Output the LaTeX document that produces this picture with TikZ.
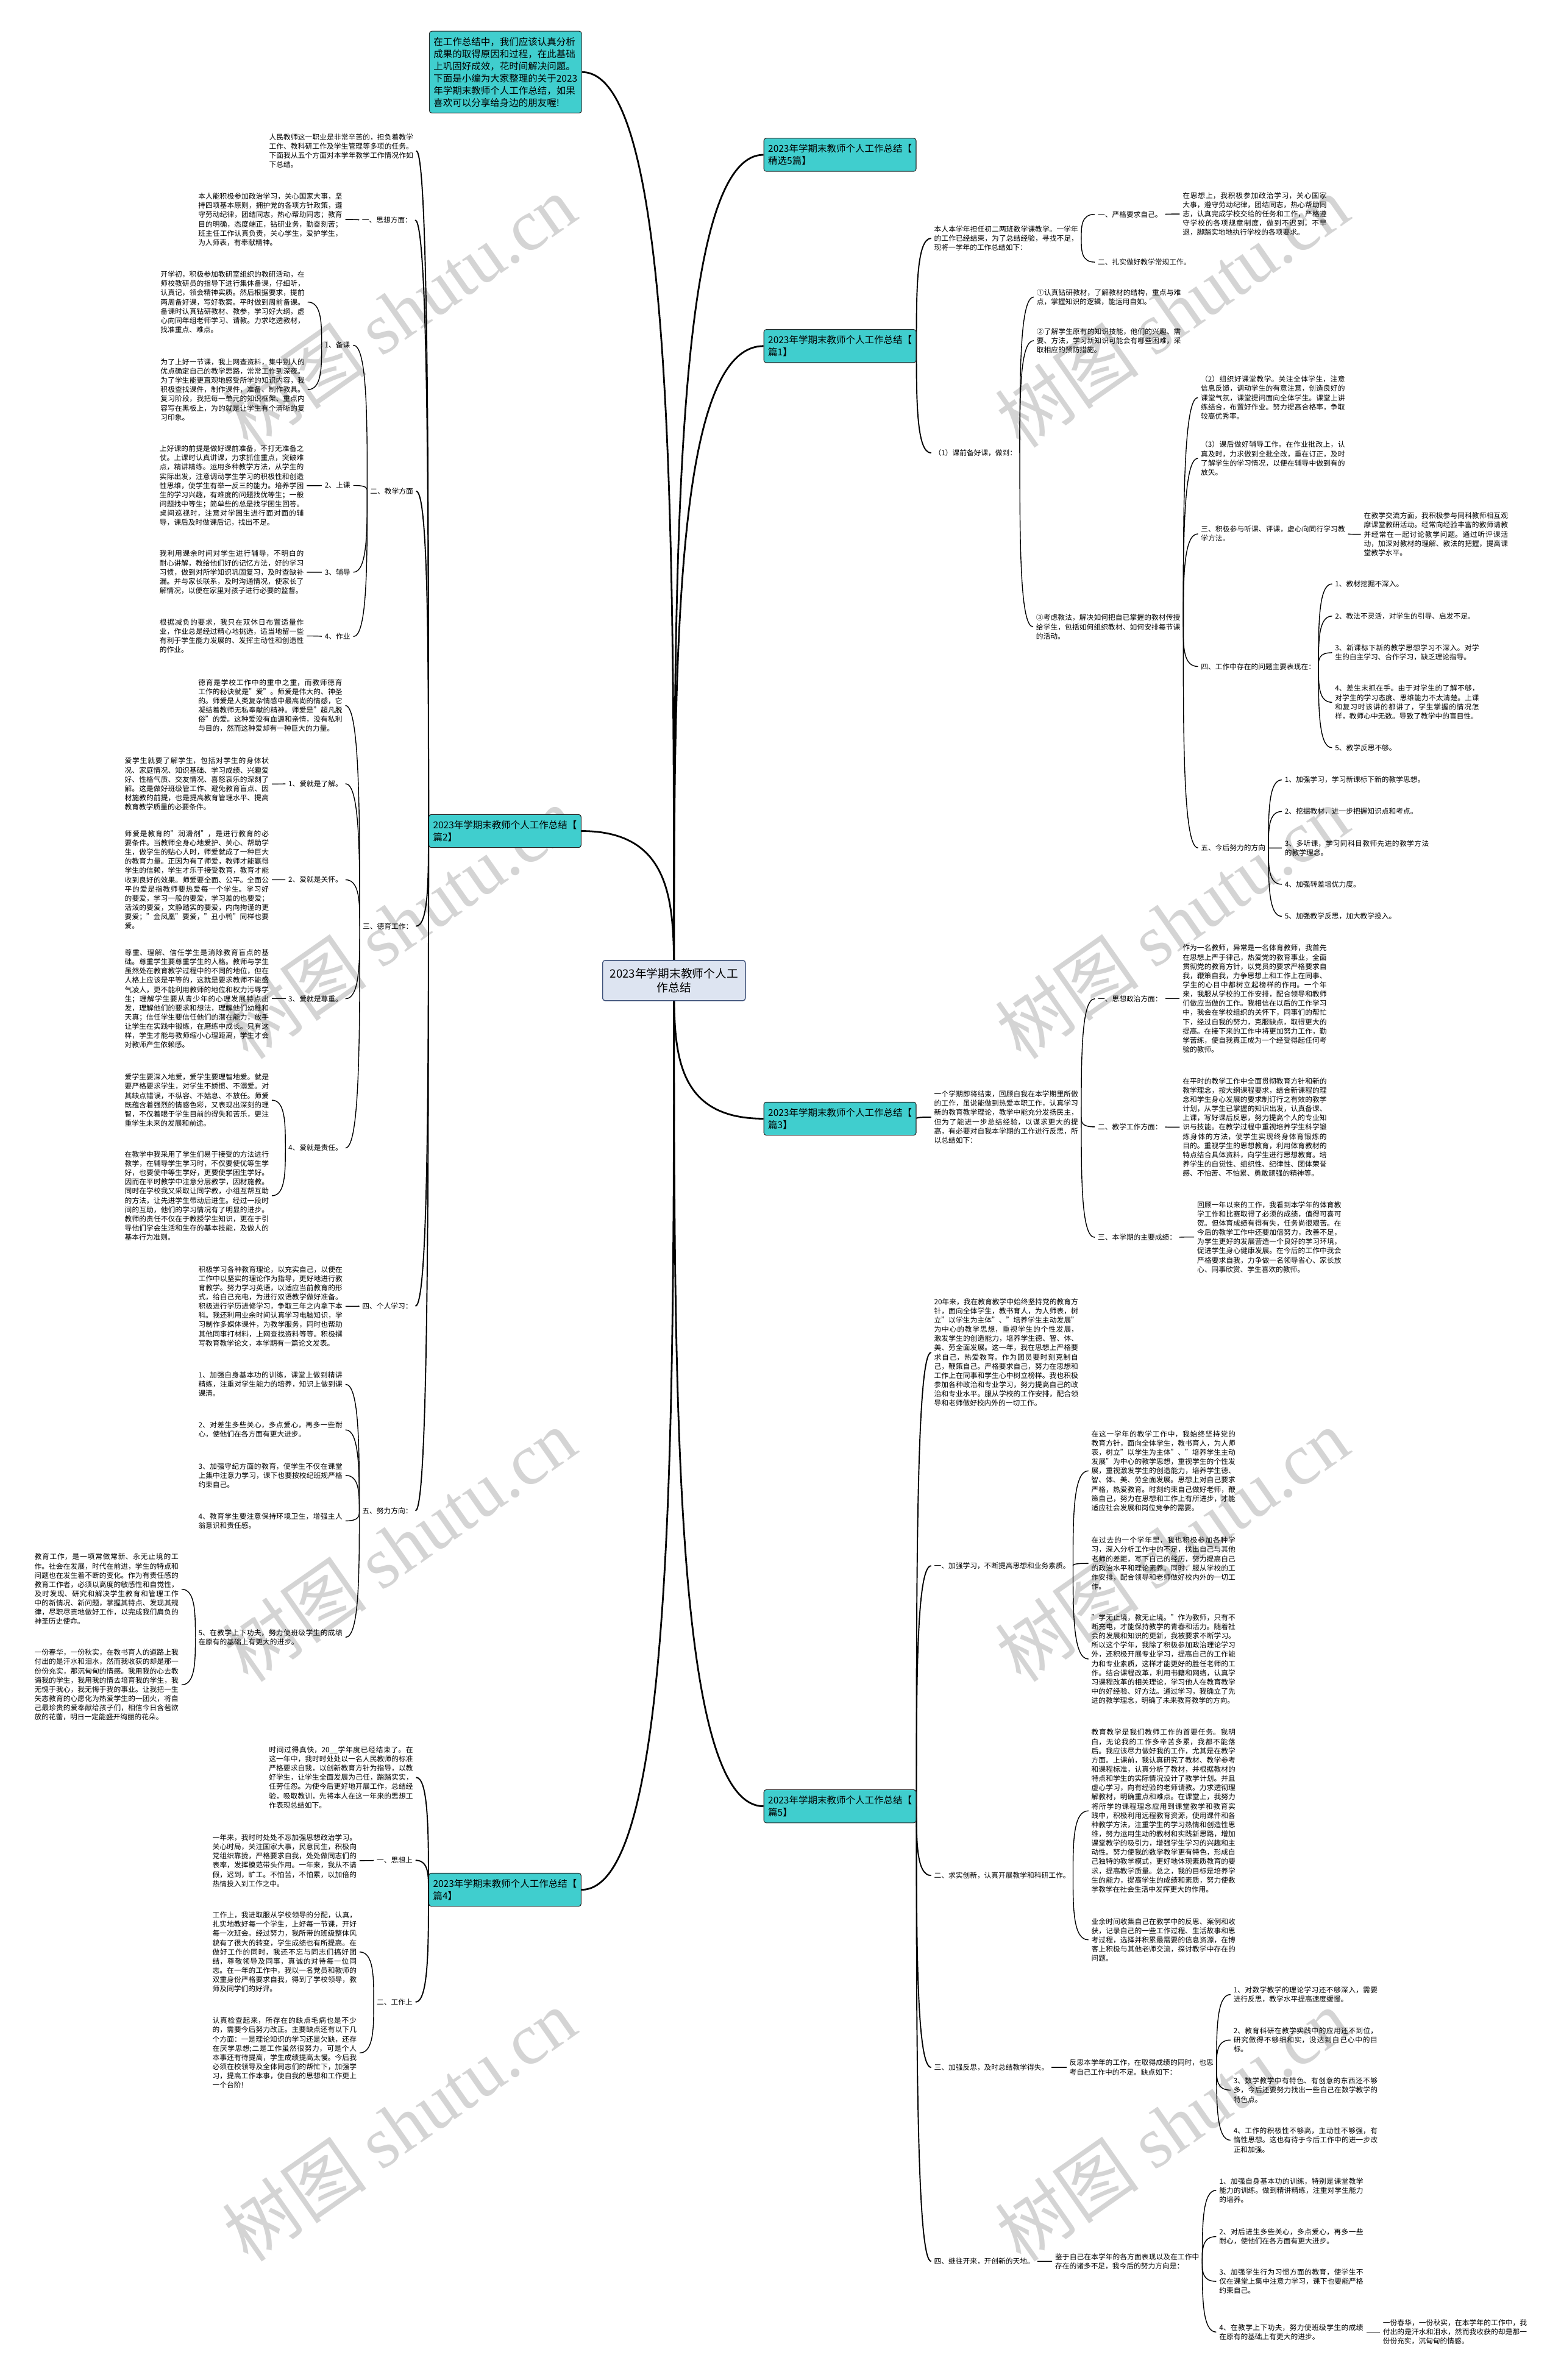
\documentclass[tikz,border=0pt]{standalone}
\usepackage{fontspec}
\setmainfont{Noto Sans CJK SC}
\newfontfamily\wmfont{Liberation Serif}
\XeTeXlinebreaklocale "zh"
\XeTeXlinebreakskip=0pt plus 1pt
\usetikzlibrary{calc,positioning}
\pgfdeclarelayer{background}
\pgfsetlayers{background,main}

\definecolor{branchteal}{RGB}{64,206,206}
\definecolor{rootfill}{RGB}{221,228,241}
\definecolor{rootline}{RGB}{62,82,122}
\definecolor{markgray}{RGB}{212,212,212}

\tikzset{
  txt/.style={font=\fontsize{6.7}{8.65}\selectfont, inner sep=0pt, outer xsep=1mm, xshift=-1mm, anchor=west, text width=135pt, align=justify},
  lbl/.style={font=\fontsize{6.7}{8.65}\selectfont, inner sep=0pt, outer xsep=1mm, xshift=-1mm, anchor=west},
  pian/.style={draw=black!85, line width=0.6pt, fill=branchteal, rounded corners=0.8mm, font=\fontsize{8.85}{11.4}\selectfont, align=left, inner xsep=1.4mm, inner ysep=2mm},
  rootbox/.style={draw=rootline, line width=0.8pt, fill=rootfill, rounded corners=0.8mm, font=\fontsize{10.7}{13}\selectfont, align=center, inner xsep=2.4mm, inner ysep=2.6mm},
  wmark/.style={rotate=35, text=markgray, font=\fontsize{68}{70}\selectfont, inner sep=0pt},
  link/.style={line width=0.8pt, to path={.. controls ($(\tikztostart)!0.5!(\tikztostart|-\tikztotarget)$) and (\tikztostart|-\tikztotarget) .. (\tikztotarget)}},
  trunk/.style={link, line width=1.1pt},
  stem/.style={link, line width=1.6pt},
}

\begin{document}
\begin{tikzpicture}[x=0.5mm, y=-0.5mm]
\useasboundingbox (0,0) rectangle (1028,1568);

% centre and branches
\node[rootbox] (root) at (444,646) {2023年学期末教师个人工\\作总结};
\node[pian, anchor=center] (note) at (333,47.5) {在工作总结中，我们应该认真分析\\成果的取得原因和过程，在此基础\\上巩固好成效，花时间解决问题。\\下面是小编为大家整理的关于2023\\年学期末教师个人工作总结，如果\\喜欢可以分享给身边的朋友喔!};
\node[pian, anchor=west] (jx) at (503,102) {2023年学期末教师个人工作总结【\\精选5篇】};
\node[pian, anchor=west] (p1) at (503,228) {2023年学期末教师个人工作总结【\\篇1】};
\node[pian, anchor=east] (p2) at (383,547.5) {2023年学期末教师个人工作总结【\\篇2】};
\node[pian, anchor=west] (p3) at (503,737) {2023年学期末教师个人工作总结【\\篇3】};
\node[pian, anchor=east] (p4) at (383,1245) {2023年学期末教师个人工作总结【\\篇4】};
\node[pian, anchor=west] (p5) at (503,1190) {2023年学期末教师个人工作总结【\\篇5】};

% pian 1
\node[txt] (b1i) at (615.4,157) {本人本学年担任初二两班数学课教学。一学年的工作已经结束，为了总结经验，寻找不足，现将一学年的工作总结如下：};
\node[lbl] (b1a) at (723.2,141.2) {一、严格要求自己。};
\node[txt] (b1ad) at (779.1,141) {在思想上，我积极参加政治学习，关心国家大事，遵守劳动纪律，团结同志，热心帮助同志，认真完成学校交给的任务和工作，严格遵守学校的各项规章制度，做到不迟到，不早退，脚踏实地地执行学校的各项要求。};
\node[lbl] (b1b) at (723.2,172.7) {二、扎实做好教学常规工作。};
\node[lbl] (b1c) at (615.4,298.4) {（1）课前备好课，做到：};
\node[txt] (b1c1) at (683,195.7) {①认真钻研教材，了解教材的结构，重点与难点，掌握知识的逻辑，能运用自如。};
\node[txt] (b1c2) at (683,224.4) {②了解学生原有的知识技能，他们的兴趣、需要、方法，学习新知识可能会有哪些困难，采取相应的预防措施。};
\node[txt] (b1c3) at (682.6,413) {③考虑教法，解决如何把自已掌握的教材传授给学生，包括如何组织教材、如何安排每节课的活动。};
\node[txt] (b1d2) at (791.1,262) {（2）组织好课堂教学。关注全体学生，注意信息反馈，调动学生的有意注意，创造良好的课堂气氛，课堂提问面向全体学生。课堂上讲练结合，布置好作业。努力提高合格率，争取较高优秀率。};
\node[txt] (b1d3) at (791.1,302) {（3）课后做好辅导工作。在作业批改上，认真及时，力求做到全批全改，重在订正，及时了解学生的学习情况，以便在辅导中做到有的放矢。};
\node[txt] (b1e) at (791.2,351.7) {三、积极参与听课、评课，虚心向同行学习教学方法。};
\node[txt] (b1ed) at (898.5,352) {在教学交流方面，我积极参与同科教师相互观摩课堂教研活动。经常向经验丰富的教师请教并经常在一起讨论教学问题。通过听评课活动，加深对教材的理解、教法的把握，提高课堂教学水平。};
\node[lbl] (b1f) at (791.2,439.1) {四、工作中存在的问题主要表现在：};
\node[txt] (f1) at (879.5,384.7) {1、教材挖掘不深入。};
\node[txt] (f2) at (879.5,405.9) {2、教法不灵活，对学生的引导、启发不足。};
\node[txt] (f3) at (879.5,430) {3、新课标下新的教学思想学习不深入。对学生的自主学习、合作学习，缺乏理论指导。};
\node[txt] (f4) at (879.5,462.7) {4、差生末抓在手。由于对学生的了解不够，对学生的学习态度、思维能力不太清楚。上课和复习时该讲的都讲了，学生掌握的情况怎样，教师心中无数。导致了教学中的盲目性。};
\node[txt] (f5) at (879.5,492.6) {5、教学反思不够。};
\node[lbl] (b1g) at (791.2,558.6) {五、今后努力的方向};
\node[txt] (g1) at (846.4,513.8) {1、加强学习，学习新课标下新的教学思想。};
\node[txt] (g2) at (846.4,534.6) {2、挖掘教材，进一步把握知识点和考点。};
\node[txt] (g3) at (846.4,558.7) {3、多听课，学习同科目教师先进的教学方法的教学理念。};
\node[txt] (g4) at (846.4,582.6) {4、加强转差培优力度。};
\node[txt] (g5) at (846.4,603.7) {5、加强教学反思，加大教学投入。};

% pian 2
\node[txt] (in2) at (177.3,99.4) {人民教师这一职业是非常辛苦的，担负着教学工作、教科研工作及学生管理等多项的任务。下面我从五个方面对本学年教学工作情况作如下总结。};
\node[lbl] (s1) at (238.5,145) {一、思想方面：};
\node[txt] (s1d) at (130.6,144.6) {本人能积极参加政治学习，关心国家大事，坚持四项基本原则，拥护党的各项方针政策，遵守劳动纪律，团结同志，热心帮助同志；教育目的明确，态度端正，钻研业务，勤奋刻苦；班主任工作认真负责，关心学生，爱护学生，为人师表，有奉献精神。};
\node[lbl] (s2) at (243.9,323.6) {二、教学方面};
\node[lbl] (s2a) at (213.9,227.4) {1、备课};
\node[txt] (s2a1) at (105.8,199) {开学初，积极参加教研室组织的教研活动，在师校教研员的指导下进行集体备课，仔细听，认真记，领会精神实质。然后根据要求，提前两周备好课，写好教案。平时做到周前备课。备课时认真钻研教材、教参，学习好大纲，虚心向同年组老师学习、请教。力求吃透教材，找准重点、难点。};
\node[txt] (s2a2) at (105.8,256.7) {为了上好一节课，我上网查资料，集中别人的优点确定自己的教学思路，常常工作到深夜。为了学生能更直观地感受所学的知识内容，我积极查找课件，制作课件，准备、制作教具。复习阶段，我把每一单元的知识框架、重点内容写在黑板上，为的就是让学生有个清晰的复习印象。};
\node[lbl] (s2b) at (214,319.8) {2、上课};
\node[txt] (s2bd) at (105.2,320) {上好课的前提是做好课前准备，不打无准备之仗。上课时认真讲课，力求抓住重点，突破难点，精讲精练。运用多种教学方法，从学生的实际出发，注意调动学生学习的积极性和创造性思维，使学生有举一反三的能力。培养学困生的学习兴趣，有难度的问题找优等生；一般问题找中等生；简单些的总是找学困生回答。桌间巡视时，注意对学困生进行面对面的辅导，课后及时做课后记，找出不足。};
\node[lbl] (s2c) at (214,377) {3、辅导};
\node[txt] (s2cd) at (105.2,377) {我利用课余时间对学生进行辅导，不明白的耐心讲解，教给他们好的记忆方法，好的学习习惯，做到对所学知识巩固复习，及时查缺补漏。并与家长联系，及时沟通情况，使家长了解情况，以便在家里对孩子进行必要的监督。};
\node[lbl] (s2d) at (214,419.4) {4、作业};
\node[txt] (s2dd) at (105.2,419) {根据减负的要求，我只在双休日布置适量作业，作业总是经过精心地挑选，适当地留一些有利于学生能力发展的、发挥主动性和创造性的作业。};
\node[lbl] (s3) at (239,610.2) {三、德育工作：};
\node[txt] (s3i) at (130.6,464.8) {德育是学校工作中的重中之重，而教师德育工作的秘诀就是"爱"。师爱是伟大的、神圣的。师爱是人类复杂情感中最高尚的情感，它凝结着教师无私奉献的精神。师爱是"超凡脱俗"的爱。这种爱没有血源和亲情，没有私利与目的，然而这种爱却有一种巨大的力量。};
\node[lbl] (s3a) at (190,516.3) {1、爱就是了解。};
\node[txt] (s3ad) at (82.2,516.5) {爱学生就要了解学生，包括对学生的身体状况、家庭情况、知识基础、学习成绩、兴趣爱好、性格气质、交友情况、喜怒哀乐的深刻了解。这是做好班级管工作、避免教育盲点、因材施教的前提，也是提高教育管理水平、提高教育教学质量的必要条件。};
\node[lbl] (s3b) at (190,579.6) {2、爱就是关怀。};
\node[txt] (s3bd) at (82.2,579.6) {师爱是教育的"润滑剂"，是进行教育的必要条件。当教师全身心地爱护、关心、帮助学生，做学生的贴心人时，师爱就成了一种巨大的教育力量。正因为有了师爱，教师才能赢得学生的信赖，学生才乐于接受教育，教育才能收到良好的效果。师爱要全面、公平。全面公平的爱是指教师要热爱每一个学生。学习好的要爱，学习一般的要爱，学习差的也要爱；活泼的要爱，文静踏实的要爱，内向拘谨的更要爱；"金凤凰"要爱，"丑小鸭"同样也要爱。};
\node[lbl] (s3c) at (190,658) {3、爱就是尊重。};
\node[txt] (s3cd) at (82.2,658) {尊重、理解、信任学生是消除教育盲点的基础。尊重学生要尊重学生的人格。教师与学生虽然处在教育教学过程中的不同的地位，但在人格上应该是平等的，这就是要求教师不能盛气凌人，更不能利用教师的地位和权力污辱学生；理解学生要从青少年的心理发展特点出发，理解他们的要求和想法，理解他们幼稚和天真；信任学生要信任他们的潜在能力，放手让学生在实践中锻炼，在磨练中成长。只有这样，学生才能与教师缩小心理距离，学生才会对教师产生依赖感。};
\node[lbl] (s3d) at (190,756.3) {4、爱就是责任。};
\node[txt] (s3d1) at (82.2,724.8) {爱学生要深入地爱，爱学生要理智地爱。就是要严格要求学生，对学生不娇惯、不溺爱。对其缺点错误，不纵容、不姑息、不放任。师爱既蕴含着强烈的情感色彩，又表现出深刻的理智，不仅着眼于学生目前的得失和苦乐，更注重学生未来的发展和前途。};
\node[txt] (s3d2) at (82.2,787.8) {在教学中我采用了学生们易于接受的方法进行教学，在辅导学生学习时，不仅要使优等生学好，也要使中等生学好，更要使学困生学好。因而在平时教学中注意分层教学，因材施教。同时在学校我又采取让同学教，小组互帮互助的方法，让先进学生带动后进生。经过一段时间的互助，他们的学习情况有了明显的进步。教师的责任不仅在于教授学生知识，更在于引导他们学会生活和生存的基本技能，及做人的基本行为准则。};
\node[lbl] (s4) at (238.7,860.5) {四、个人学习：};
\node[txt] (s4d) at (130.7,860.6) {积极学习各种教育理论，以充实自己，以便在工作中以坚实的理论作为指导，更好地进行教育教学。努力学习英语，以适应当前教育的形式，给自己充电，为进行双语教学做好准备。积极进行学历进修学习，争取三年之内拿下本科。我还利用业余时间认真学习电脑知识，学习制作多媒体课件，为教学服务，同时也帮助其他同事打材料，上网查找资料等等。积极撰写教育教学论文，本学期有一篇论文发表。};
\node[lbl] (s5) at (238.7,995.3) {五、努力方向：};
\node[txt] (s5a) at (130.7,912) {1、加强自身基本功的训练，课堂上做到精讲精练，注重对学生能力的培养，知识上做到课课清。};
\node[txt] (s5b) at (130.7,942) {2、对差生多些关心，多点爱心，再多一些耐心，使他们在各方面有更大进步。};
\node[txt] (s5c) at (130.7,972) {3、加强守纪方面的教育，使学生不仅在课堂上集中注意力学习，课下也要按校纪班规严格约束自己。};
\node[txt] (s5d) at (130.7,1002) {4、教育学生要注意保持环境卫生，增强主人翁意识和责任感。};
\node[txt] (s5e) at (130.7,1078.7) {5、在教学上下功夫，努力使班级学生的成绩在原有的基础上有更大的进步。};
\node[txt] (s5e1) at (22.7,1047) {教育工作，是一项常做常新、永无止境的工作。社会在发展，时代在前进，学生的特点和问题也在发生着不断的变化。作为有责任感的教育工作者，必须以高度的敏感性和自觉性，及时发现、研究和解决学生教育和管理工作中的新情况、新问题，掌握其特点、发现其规律，尽职尽责地做好工作，以完成我们肩负的神圣历史使命。};
\node[txt] (s5e2) at (22.7,1110) {一份春华，一份秋实，在教书育人的道路上我付出的是汗水和泪水，然而我收获的却是那一份份充实，那沉甸甸的情感。我用我的心去教诲我的学生，我用我的情去培育我的学生，我无愧于我心，我无悔于我的事业。让我把一生矢志教育的心愿化为热爱学生的一团火，将自己最珍贵的爱奉献给孩子们，相信今日含苞欲放的花蕾，明日一定能盛开绚丽的花朵。};

% pian 3
\node[txt] (c3i) at (615.4,736) {一个学期即将结束，回顾自我在本学期里所做的工作，虽说能做到热爱本职工作，认真学习新的教育教学理论，教学中能充分发扬民主，但为了能进一步总结经验，以谋求更大的提高，有必要对自我本学期的工作进行反思，所以总结如下：};
\node[lbl] (c3a) at (723.2,658) {一、思想政治方面：};
\node[txt] (c3ad) at (779.1,658) {作为一名教师，异常是一名体育教师，我首先在思想上严于律己，热爱党的教育事业，全面贯彻党的教育方针，以党员的要求严格要求自我，鞭策自我，力争思想上和工作上在同事、学生的心目中都树立起榜样的作用。一个年来，我服从学校的工作安排，配合领导和教师们做应当做的工作。我相信在以后的工作学习中，我会在学校组织的关怀下，同事们的帮忙下，经过自我的努力，克服缺点，取得更大的提高。在接下来的工作中将更加努力工作，勤学苦练，使自我真正成为一个经受得起任何考验的教师。};
\node[lbl] (c3b) at (723.2,742.4) {二、教学工作方面：};
\node[txt] (c3bd) at (779.1,742.6) {在平时的教学工作中全面贯彻教育方针和新的教学理念，按大纲课程要求，结合新课程的理念和学生身心发展的要求制订行之有效的教学计划，从学生已掌握的知识出发，认真备课、上课，写好课后反思，努力提高个人的专业知识与技能。在教学过程中重视培养学生科学锻炼身体的方法，使学生实现终身体育锻炼的目的。重视学生的思想教育，利用体育教材的特点结合具体资料，向学生进行思想教育。培养学生的自觉性、组织性、纪律性、团体荣誉感、不怕苦、不怕累、勇敢顽强的精神等。};
\node[lbl] (c3c) at (723.2,815.2) {三、本学期的主要成绩：};
\node[txt] (c3cd) at (788.7,815) {回顾一年以来的工作，我看到本学年的体育教学工作和比赛取得了必须的成绩，值得可喜可贺。但体育成绩有得有失，任务尚很艰苦。在今后的教学工作中还要加倍努力，改善不足，为学生更好的发展营造一个良好的学习环境，促进学生身心健康发展。在今后的工作中我会严格要求自我，力争做一名领导省心、家长放心、同事欣赏、学生喜欢的教师。};

% pian 4
\node[txt] (p4i) at (177.2,1171) {时间过得真快，20\_\_学年度已经结束了。在这一年中，我时时处处以一名人民教师的标准严格要求自我，以创新教育方针为指导，以教好学生，让学生全面发展为己任，踏踏实实，任劳任怨。为使今后更好地开展工作，总结经验，吸取教训，先将本人在这一年来的思想工作表现总结如下。};
\node[lbl] (p4a) at (248.2,1225.6) {一、思想上};
\node[txt] (p4ad) at (140,1225.8) {一年来，我时时处处不忘加强思想政治学习。关心时局，关注国家大事，民意民生，积极向党组织靠拢，严格要求自我，处处做同志们的表率，发挥模范带头作用。一年来，我从不请假，迟到，旷工。不怕苦，不怕累，以加倍的热情投入到工作之中。};
\node[lbl] (p4b) at (248.2,1319) {二、工作上};
\node[txt] (p4b1) at (140,1286) {工作上，我进取服从学校领导的分配，认真，扎实地教好每一个学生，上好每一节课，开好每一次班会。经过努力，我所带的班级整体风貌有了很大的转变，学生成绩也有所提高。在做好工作的同时，我还不忘与同志们搞好团结，尊敬领导及同事，真诚的对待每一位同志。在一年的工作中，我以一名党员和教师的双重身份严格要求自我，得到了学校领导，教师及同学们的好评。};
\node[txt] (p4b2) at (140,1352.5) {认真检查起来，所存在的缺点毛病也是不少的，需要今后努力改正。主要缺点还有以下几个方面：一是理论知识的学习还是欠缺，还存在厌学思想;二是工作虽然很努力，可是个人本事还有待提高，学生成绩提高太慢。今后我必须在校领导及全体同志们的帮忙下，加强学习，提高工作本事，使自我的思想和工作更上一个台阶!};

% pian 5
\node[txt] (e5i) at (615.4,891) {20年来，我在教育教学中始终坚持党的教育方针，面向全体学生，教书育人，为人师表，树立"以学生为主体"、"培养学生主动发展"为中心的教学思想，重视学生的个性发展，激发学生的创造能力，培养学生德、智、体、美、劳全面发展。这一年，我在思想上严格要求自己，热爱教育。作为团员要时刻克制自己，鞭策自己。严格要求自己，努力在思想和工作上在同事和学生心中树立榜样。我也积极参加各种政治和专业学习，努力提高自己的政治和专业水平。服从学校的工作安排，配合领导和老师做好校内外的一切工作。};
\node[lbl] (e5a) at (615.4,1031.6) {一、加强学习，不断提高思想和业务素质。};
\node[txt] (e5a1) at (719,969) {在这一学年的教学工作中，我始终坚持党的教育方针，面向全体学生，教书育人，为人师表，树立"以学生为主体"、"培养学生主动发展"为中心的教学思想，重视学生的个性发展，重视激发学生的创造能力，培养学生德、智、体、美、劳全面发展。思想上对自己要求严格，热爱教育。时刻约束自己做好老师，鞭策自己，努力在思想和工作上有所进步，才能适应社会发展和岗位竞争的需要。};
\node[txt] (e5a2) at (719,1030) {在过去的一个学年里，我也积极参加各种学习，深入分析工作中的不足，找出自己与其他老师的差距，写下自己的经历，努力提高自己的政治水平和理论素养。同时，服从学校的工作安排，配合领导和老师做好校内外的一切工作。};
\node[txt] (e5a3) at (719,1093) {"学无止境，教无止境。"作为教师，只有不断充电，才能保持教学的青春和活力。随着社会的发展和知识的更新，我被要求不断学习。所以这个学年，我除了积极参加政治理论学习外，还积极开展专业学习，提高自己的工作能力和专业素质，这样才能更好的胜任老师的工作。结合课程改革，利用书籍和网络，认真学习课程改革的相关理论，学习他人在教育教学中的好经验、好方法。通过学习，我确立了先进的教学理念，明确了未来教育教学的方向。};
\node[lbl] (e5b) at (615.4,1235.6) {二、求实创新，认真开展教学和科研工作。};
\node[txt] (e5b1) at (719,1193) {教育教学是我们教师工作的首要任务。我明白，无论我的工作多辛苦多累，我都不能落后。我应该尽力做好我的工作，尤其是在教学方面。上课前，我认真研究了教材、教学参考和课程标准，认真分析了教材，并根据教材的特点和学生的实际情况设计了教学计划。并且虚心学习，向有经验的老师请教。力求透彻理解教材，明确重点和难点。在课堂上，我努力将所学的课程理念应用到课堂教学和教育实践中，积极利用远程教育资源，使用课件和各种教学方法，注重学生的学习热情和创造性思维，努力运用生动的教材和实践新思路，增加课堂教学的吸引力，增强学生学习的兴趣和主动性。努力使我的数学教学更有特色，形成自己独特的教学模式，更好地体现素质教育的要求，提高教学质量。总之，我的目标是培养学生的能力，提高学生的成绩和素质，努力使数学教学在社会生活中发挥更大的作用。};
\node[txt] (e5b2) at (719,1278) {业余时间收集自己在教学中的反思、案例和收获，记录自己的一些工作过程、生活故事和思考过程，选择并积累最需要的信息资源，在博客上积极与其他老师交流，探讨教学中存在的问题。};
\node[lbl] (e5c) at (615.4,1362) {三、加强反思，及时总结教学得失。};
\node[txt] (e5cd) at (704.5,1362) {反思本学年的工作，在取得成绩的同时，也思考自己工作中的不足。缺点如下：};
\node[txt] (e5c1) at (812.6,1314) {1、对数学教学的理论学习还不够深入，需要进行反思，教学水平提高速度缓慢。};
\node[txt] (e5c2) at (812.6,1344) {2、教育科研在教学实践中的应用还不到位，研究做得不够细和实，没达到自己心中的目标。};
\node[txt] (e5c3) at (812.6,1377) {3、数学教学中有特色、有创意的东西还不够多，今后还要努力找出一些自己在数学教学的特色点。};
\node[txt] (e5c4) at (812.6,1410) {4、工作的积极性不够高，主动性不够强，有惰性思想。这也有待于今后工作中的进一步改正和加强。};
\node[lbl] (e5d) at (615.4,1489.8) {四、继往开来，开创新的天地。};
\node[txt] (e5dd) at (695.1,1489.8) {鉴于自己在本学年的各方面表现以及在工作中存在的诸多不足，我今后的努力方向是：};
\node[txt] (e5d1) at (803.2,1443) {1、加强自身基本功的训练，特别是课堂教学能力的训练。做到精讲精练，注重对学生能力的培养。};
\node[txt] (e5d2) at (803.2,1473.5) {2、对后进生多些关心，多点爱心，再多一些耐心，使他们在各方面有更大进步。};
\node[txt] (e5d3) at (803.2,1503) {3、加强学生行为习惯方面的教育，使学生不仅在课堂上集中注意力学习，课下也要能严格约束自己。};
\node[txt] (e5d4) at (803.2,1536.4) {4、在教学上下功夫，努力使班级学生的成绩在原有的基础上有更大的进步。};
\node[txt] (e5d4d) at (911,1536.4) {一份春华，一份秋实，在本学年的工作中，我付出的是汗水和泪水，然而我收获的却是那一份份充实，沉甸甸的情感。};

\begin{pgfonlayer}{background}
  \fill[white] (0,0) rectangle (1028,1568);
  % watermark
  \foreach \wx in {263,772}
    \foreach \wy in {205,608,1018,1400}
      \node[wmark] at (\wx,\wy) {树图 {\wmfont shutu.cn}};
  % from the centre
  \draw[stem] (root.center) to (note.east);
  \foreach \p in {jx,p1,p3,p5}
    \draw[stem] (root.center) to (\p.west);
  \foreach \p in {p2,p4}
    \draw[stem] (root.center) to (\p.east);
  % pian 1 links
  \foreach \c in {b1i,b1c} \draw[trunk] (p1.east) to (\c.west);
  \foreach \c in {b1a,b1b} \draw[link] (b1i.east) to (\c.west);
  \draw[link] (b1a.east) to (b1ad.west);
  \foreach \c in {b1c1,b1c2,b1c3} \draw[link] (b1c.east) to (\c.west);
  \foreach \c in {b1d2,b1d3,b1e,b1f,b1g} \draw[link] (b1c3.east) to (\c.west);
  \draw[link] (b1e.east) to (b1ed.west);
  \foreach \c in {f1,f2,f3,f4,f5} \draw[link] (b1f.east) to (\c.west);
  \foreach \c in {g1,g2,g3,g4,g5} \draw[link] (b1g.east) to (\c.west);
  % pian 2 links
  \foreach \c in {in2,s1,s2,s3,s4,s5} \draw[trunk] (p2.west) to (\c.east);
  \draw[link] (s1.west) to (s1d.east);
  \foreach \c in {s2a,s2b,s2c,s2d} \draw[link] (s2.west) to (\c.east);
  \foreach \c in {s2a1,s2a2} \draw[link] (s2a.west) to (\c.east);
  \draw[link] (s2b.west) to (s2bd.east);
  \draw[link] (s2c.west) to (s2cd.east);
  \draw[link] (s2d.west) to (s2dd.east);
  \foreach \c in {s3i,s3a,s3b,s3c,s3d} \draw[link] (s3.west) to (\c.east);
  \draw[link] (s3a.west) to (s3ad.east);
  \draw[link] (s3b.west) to (s3bd.east);
  \draw[link] (s3c.west) to (s3cd.east);
  \foreach \c in {s3d1,s3d2} \draw[link] (s3d.west) to (\c.east);
  \draw[link] (s4.west) to (s4d.east);
  \foreach \c in {s5a,s5b,s5c,s5d,s5e} \draw[link] (s5.west) to (\c.east);
  \foreach \c in {s5e1,s5e2} \draw[link] (s5e.west) to (\c.east);
  % pian 3 links
  \draw[trunk] (p3.east) to (c3i.west);
  \foreach \c in {c3a,c3b,c3c} \draw[link] (c3i.east) to (\c.west);
  \draw[link] (c3a.east) to (c3ad.west);
  \draw[link] (c3b.east) to (c3bd.west);
  \draw[link] (c3c.east) to (c3cd.west);
  % pian 4 links
  \foreach \c in {p4i,p4a,p4b} \draw[trunk] (p4.west) to (\c.east);
  \draw[link] (p4a.west) to (p4ad.east);
  \foreach \c in {p4b1,p4b2} \draw[link] (p4b.west) to (\c.east);
  % pian 5 links
  \foreach \c in {e5i,e5a,e5b,e5c,e5d} \draw[trunk] (p5.east) to (\c.west);
  \foreach \c in {e5a1,e5a2,e5a3} \draw[link] (e5a.east) to (\c.west);
  \foreach \c in {e5b1,e5b2} \draw[link] (e5b.east) to (\c.west);
  \draw[link] (e5c.east) to (e5cd.west);
  \foreach \c in {e5c1,e5c2,e5c3,e5c4} \draw[link] (e5cd.east) to (\c.west);
  \draw[link] (e5d.east) to (e5dd.west);
  \foreach \c in {e5d1,e5d2,e5d3,e5d4} \draw[link] (e5dd.east) to (\c.west);
  \draw[link] (e5d4.east) to (e5d4d.west);
\end{pgfonlayer}
\end{tikzpicture}
\end{document}
